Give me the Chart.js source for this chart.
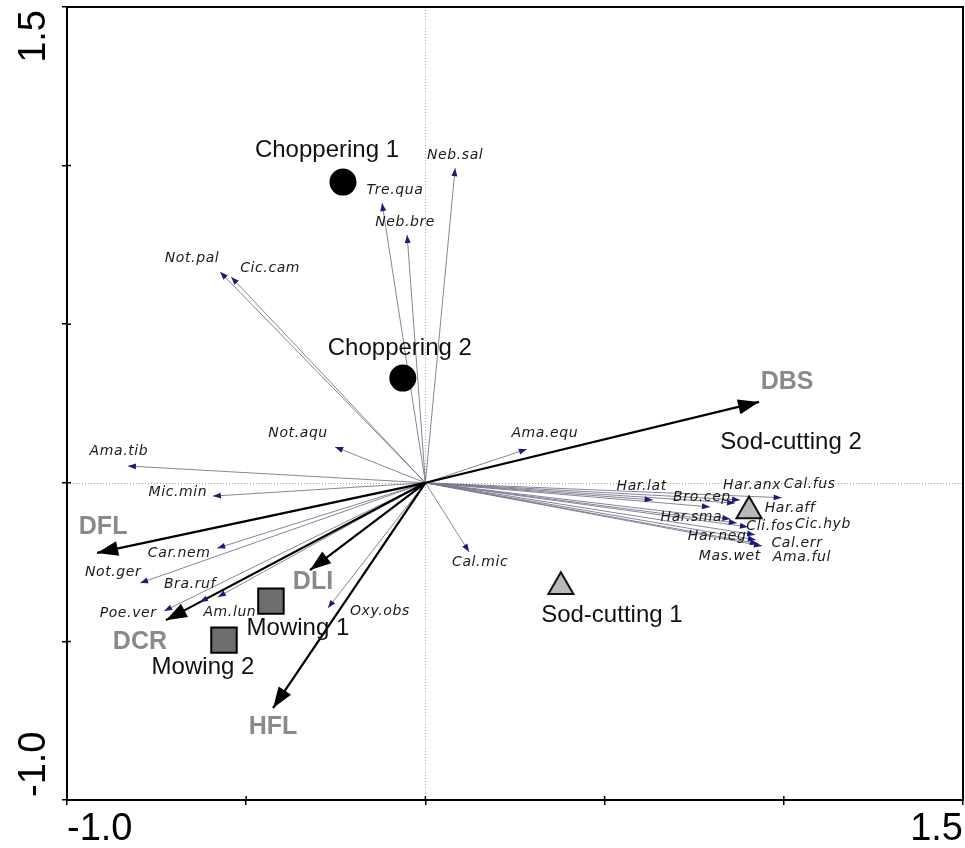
<!DOCTYPE html>
<html>
<head>
<meta charset="utf-8">
<script src="https://cdn.jsdelivr.net/npm/chart.js@4.4.0/dist/chart.umd.min.js"></script>
<style>
  html, body { margin: 0; padding: 0; background: #fff; }
  #wrap { width: 965px; height: 848px; position: relative; }
</style>
</head>
<body>
<div id="wrap"><canvas id="rda"></canvas></div>
<script>
// RDA biplot - species, explanatory variables and treatments

// species arrows (tips)
const speciesNames = ['Neb.sal', 'Tre.qua', 'Neb.bre', 'Not.pal', 'Cic.cam', 'Not.aqu', 'Ama.tib',
  'Mic.min', 'Car.nem', 'Not.ger', 'Bra.ruf', 'Am.lun', 'Poe.ver', 'Oxy.obs', 'Cal.mic', 'Ama.equ',
  'Har.lat', 'Bro.cep', 'Har.anx', 'Cal.fus', 'Har.aff', 'Har.sma', 'Cli.fos', 'Cic.hyb',
  'Har.neg', 'Mas.wet', 'Cal.err', 'Ama.ful'];
const speciesX = [0.083, -0.121, -0.051, -0.573, -0.542, -0.252, -0.830,
  -0.593, -0.581, -0.796, -0.629, -0.579, -0.729, -0.272, 0.122, 0.283,
  0.634, 0.794, 0.878, 0.994, 0.864, 0.851, 0.869, 0.900,
  0.920, 0.922, 0.928, 0.939];
const speciesY = [0.992, 0.882, 0.781, 0.665, 0.649, 0.113, 0.053,
  -0.042, -0.206, -0.316, -0.376, -0.360, -0.404, -0.395, -0.218, 0.106,
  -0.054, -0.076, -0.054, -0.047, -0.064, -0.114, -0.127, -0.139,
  -0.164, -0.180, -0.192, -0.199];

// environmental variables
const envNames = ['DBS', 'DFL', 'DCR', 'DLI', 'HFL'];
const envX = [0.931, -0.916, -0.724, -0.322, -0.425];
const envY = [0.255, -0.221, -0.433, -0.275, -0.710];

// treatments (sites)
const siteNames = ['Choppering 1', 'Choppering 2', 'Mowing 1', 'Mowing 2', 'Sod-cutting 1', 'Sod-cutting 2'];
const siteX = [-0.230, -0.063, -0.431, -0.562, 0.378, 0.903];
const siteY = [0.948, 0.330, -0.373, -0.496, -0.328, -0.089];
const siteGroup = ['chop', 'chop', 'mow', 'mow', 'sod', 'sod'];

// axes
const axisMin = -1.0;
const axisMax = 1.5;
const tickStep = 0.5;

// label placement (pixel offsets from the point)
const speciesLabelOffset = [[0, -13], [13, -13], [-2, -13], [-28, -14], [39, -9], [-37, -14], [-9, -15],
  [-35, -4], [-38, 5], [-27, -11], [-10, -18], [12, 15], [-36, 2], [52, 3], [11, 10], [18, -16],
  [-11, -14], [-8, -10], [12, -15], [28, -13], [55, 5], [-39, -2], [33, 3], [75, -3],
  [-38, 2], [-26, 16], [39, 0], [40, 11]];
const envLabelOffset = [[28, -20], [6, -26], [-26, 22], [3, 12], [0, 19]];
const siteLabelOffset = [[-16, -32], [-3, -30], [27, 27], [-21, 27], [51, 29], [42, -69]];

const groupStyle = {
  chop: { pointStyle: 'circle', radius: 12.5, bg: '#000', border: '#000' },
  mow: { pointStyle: 'rect', radius: 18, bg: '#6e6e6e', border: '#000' },
  sod: { pointStyle: 'triangle', radius: 14.5, bg: '#b8b8b8', border: '#111' }
};

const datasets = [];
speciesNames.forEach((n, i) => {
  datasets.push({
    label: n, kind: 'species', idx: i,
    data: [{ x: 0, y: 0 }, { x: speciesX[i], y: speciesY[i] }],
    showLine: true, borderColor: '#77778f', borderWidth: 0.9,
    pointRadius: 0, order: 3
  });
});
envNames.forEach((n, i) => {
  datasets.push({
    label: n, kind: 'env', idx: i,
    data: [{ x: 0, y: 0 }, { x: envX[i], y: envY[i] }],
    showLine: true, borderColor: '#000', borderWidth: 2.2,
    pointRadius: 0, order: 2
  });
});
Object.keys(groupStyle).forEach(g => {
  const st = groupStyle[g];
  const idx = siteNames.map((_, i) => i).filter(i => siteGroup[i] === g);
  datasets.push({
    label: g, kind: 'site',
    data: idx.map(i => ({ x: siteX[i], y: siteY[i] })),
    pointStyle: st.pointStyle, pointRadius: st.radius,
    backgroundColor: st.bg, borderColor: st.border, borderWidth: 2,
    showLine: false, order: 1
  });
});

function arrowHead(ctx, x0, y0, x1, y1, len, half, color) {
  const a = Math.atan2(y1 - y0, x1 - x0);
  ctx.fillStyle = color;
  ctx.beginPath();
  ctx.moveTo(x1, y1);
  ctx.lineTo(x1 - len * Math.cos(a) + half * Math.sin(a), y1 - len * Math.sin(a) - half * Math.cos(a));
  ctx.lineTo(x1 - len * Math.cos(a) - half * Math.sin(a), y1 - len * Math.sin(a) + half * Math.cos(a));
  ctx.closePath();
  ctx.fill();
}

const biplot = {
  id: 'biplot',
  beforeDatasetsDraw(chart) {
    const { ctx, chartArea: a, scales: { x, y } } = chart;
    const x0 = Math.round(x.getPixelForValue(0)) + 0.5;
    const y0 = Math.round(y.getPixelForValue(0)) + 0.5;
    ctx.save();
    ctx.strokeStyle = '#a0a0a0';
    ctx.lineWidth = 1;
    ctx.setLineDash([1, 2]);
    ctx.beginPath();
    ctx.moveTo(x0, a.top); ctx.lineTo(x0, a.bottom);
    ctx.moveTo(a.left, y0); ctx.lineTo(a.right, y0);
    ctx.stroke();
    ctx.restore();
  },
  afterDatasetsDraw(chart) {
    const ctx = chart.ctx;
    ctx.save();
    chart.data.datasets.forEach((ds, di) => {
      const pts = chart.getDatasetMeta(di).data;
      if (ds.kind === 'species') {
        arrowHead(ctx, pts[0].x, pts[0].y, pts[1].x, pts[1].y, 8, 3, '#1c1c78');
      } else if (ds.kind === 'env') {
        arrowHead(ctx, pts[0].x, pts[0].y, pts[1].x, pts[1].y, 21, 7.5, '#000');
      }
    });
    ctx.textAlign = 'center';
    ctx.textBaseline = 'middle';
    // species names
    ctx.font = 'italic 14px "DejaVu Sans"';
    ctx.letterSpacing = '0.6px';
    ctx.fillStyle = '#1a1a1a';
    chart.data.datasets.forEach((ds, di) => {
      if (ds.kind !== 'species') return;
      const p = chart.getDatasetMeta(di).data[1];
      const o = speciesLabelOffset[ds.idx];
      ctx.fillText(ds.label, p.x + o[0], p.y + o[1]);
    });
    ctx.letterSpacing = '0px';
    // environmental variables
    ctx.font = 'bold 25px "Liberation Sans", Arial';
    ctx.fillStyle = '#8a8a8a';
    chart.data.datasets.forEach((ds, di) => {
      if (ds.kind !== 'env') return;
      const p = chart.getDatasetMeta(di).data[1];
      const o = envLabelOffset[ds.idx];
      ctx.fillText(ds.label, p.x + o[0], p.y + o[1]);
    });
    // treatments
    ctx.font = '24px "Liberation Sans", Arial';
    ctx.fillStyle = '#111';
    const { x, y } = chart.scales;
    siteNames.forEach((n, i) => {
      const px = x.getPixelForValue(siteX[i]);
      const py = y.getPixelForValue(siteY[i]);
      ctx.fillText(n, px + siteLabelOffset[i][0], py + siteLabelOffset[i][1]);
    });
    ctx.restore();
  },
  afterDraw(chart) {
    const { ctx, chartArea: a, scales: { x, y } } = chart;
    ctx.save();
    ctx.strokeStyle = '#000';
    ctx.lineWidth = 2;
    ctx.strokeRect(a.left, a.top, a.right - a.left, a.bottom - a.top);
    // inner half of the tick crosses
    ctx.lineWidth = 1.5;
    ctx.beginPath();
    x.ticks.forEach(t => {
      const px = x.getPixelForValue(t.value);
      ctx.moveTo(px, a.bottom); ctx.lineTo(px, a.bottom - 4);
    });
    y.ticks.forEach(t => {
      const py = y.getPixelForValue(t.value);
      ctx.moveTo(a.left, py); ctx.lineTo(a.left + 4, py);
    });
    ctx.stroke();
    // rotated y tick labels, only at the ends
    ctx.font = '38px "Liberation Sans", Arial';
    ctx.fillStyle = '#000';
    ctx.textBaseline = 'alphabetic';
    y.ticks.forEach(t => {
      if (t.value !== axisMin && t.value !== axisMax) return;
      const py = y.getPixelForValue(t.value);
      ctx.save();
      ctx.translate(45, py);
      ctx.rotate(-Math.PI / 2);
      ctx.textAlign = t.value === axisMin ? 'left' : 'right';
      ctx.fillText(t.value.toFixed(1), t.value === axisMin ? 3 : -3, 0);
      ctx.restore();
    });
    ctx.restore();
  }
};

new Chart(document.getElementById('rda'), {
  type: 'scatter',
  data: { datasets },
  options: {
    responsive: true,
    maintainAspectRatio: false,
    animation: false,
    events: [],
    layout: { autoPadding: false, padding: { top: 7, right: 1, left: 0, bottom: 0 } },
    plugins: { legend: { display: false }, tooltip: { enabled: false } },
    scales: {
      x: {
        type: 'linear', min: axisMin, max: axisMax,
        ticks: {
          stepSize: tickStep, autoSkip: false, maxRotation: 0, align: 'inner',
          padding: 2, color: '#000',
          font: { family: '"Liberation Sans", Arial', size: 38 },
          callback: v => (v === axisMin || v === axisMax) ? v.toFixed(1) : ''
        },
        grid: { drawOnChartArea: false, tickLength: 5, color: '#000', lineWidth: 1.5 },
        border: { display: false },
        afterFit: s => { s.height = 48; }
      },
      y: {
        type: 'linear', min: axisMin, max: axisMax,
        ticks: { stepSize: tickStep, display: false },
        grid: { drawOnChartArea: false, tickLength: 5, color: '#000', lineWidth: 1.5 },
        border: { display: false },
        afterFit: s => { s.width = 67; }
      }
    }
  },
  plugins: [biplot]
});
</script>
</body>
</html>
